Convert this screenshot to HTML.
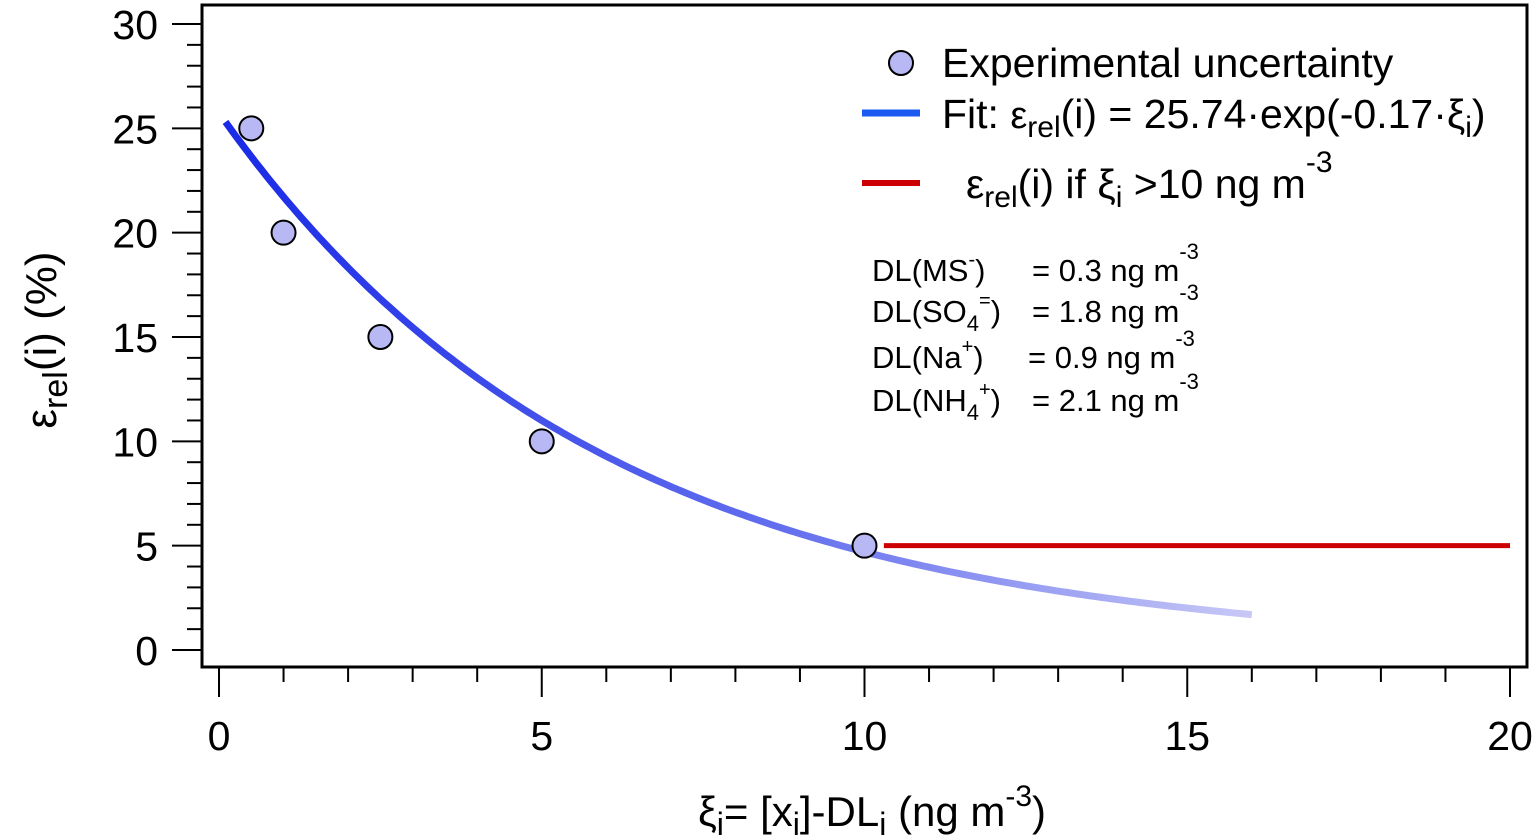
<!DOCTYPE html>
<html><head><meta charset="utf-8"><style>
body{margin:0;background:#fff}
svg{display:block;font-family:"Liberation Sans",Arial,sans-serif}
</style></head><body>
<svg id="chart" width="1540" height="840" viewBox="0 0 1540 840">
<defs>
<linearGradient id="fitgrad" x1="0" x2="1" y1="0" y2="0">
<stop offset="0" stop-color="#1a2ae6"/>
<stop offset="0.55" stop-color="#6470ee"/>
<stop offset="1" stop-color="#c8c8f6"/>
</linearGradient>
</defs>
<rect x="202" y="5" width="1325" height="662" fill="none" stroke="#000" stroke-width="3"/>
<g id="ticks"></g>
<g id="marks"></g>
<text transform="translate(56,340) rotate(-90)" text-anchor="middle" font-size="44">ε<tspan font-size="34" dy="11">rel</tspan><tspan dy="-11">(i) (%)</tspan></text>
<text x="872" y="826" text-anchor="middle" font-size="42">ξ<tspan font-size="32" dy="9">i</tspan><tspan dy="-9">= [x</tspan><tspan font-size="32" dy="9">i</tspan><tspan dy="-9">]-DL</tspan><tspan font-size="32" dy="9">i</tspan><tspan dy="-9"> (ng m</tspan><tspan font-size="30" dy="-20">-3</tspan><tspan dy="20">)</tspan></text>
<g font-size="41">
<circle cx="901" cy="63" r="12" fill="#b8b8f4" stroke="#000" stroke-width="2"/>
<text x="942" y="77">Experimental uncertainty</text>
<line x1="862" y1="113" x2="920" y2="113" stroke="#1a5af0" stroke-width="7"/>
<text x="942" y="128">Fit: <tspan font-size="38">ε</tspan><tspan font-size="30" dy="9">rel</tspan><tspan dy="-9">(i) = 25.74·exp(-0.17·ξ</tspan><tspan font-size="30" dy="9">i</tspan><tspan dy="-9">)</tspan></text>
<line x1="862" y1="183" x2="920" y2="183" stroke="#cc0000" stroke-width="6"/>
<text x="966" y="198">ε<tspan font-size="30" dy="9">rel</tspan><tspan dy="-9">(i) if ξ</tspan><tspan font-size="30" dy="9">i</tspan><tspan dy="-9"> &gt;10 ng m</tspan><tspan font-size="30" dy="-26">-3</tspan></text>
</g>
<g font-size="31">
<text x="872" y="281">DL(MS<tspan font-size="20" dy="-15">-</tspan><tspan dy="15">)</tspan><tspan x="1032">= 0.3 ng m</tspan><tspan font-size="22" dy="-22">-3</tspan></text>
<text x="872" y="322">DL(SO<tspan font-size="22" dy="9">4</tspan><tspan font-size="20" dy="-24">=</tspan><tspan dy="15">)</tspan><tspan x="1032">= 1.8 ng m</tspan><tspan font-size="22" dy="-22">-3</tspan></text>
<text x="872" y="368">DL(Na<tspan font-size="20" dy="-15">+</tspan><tspan dy="15">)</tspan><tspan x="1028">= 0.9 ng m</tspan><tspan font-size="22" dy="-22">-3</tspan></text>
<text x="872" y="411">DL(NH<tspan font-size="22" dy="9">4</tspan><tspan font-size="20" dy="-24">+</tspan><tspan dy="15">)</tspan><tspan x="1032">= 2.1 ng m</tspan><tspan font-size="22" dy="-22">-3</tspan></text>
</g>
</svg>
<script>
const xData = [0.5, 1, 2.5, 5, 10];
const yData = [25, 20, 15, 10, 5];
const fitA = 25.74;
const fitK = 0.17;
const fitRange = [0.1, 16];
const thresholdValue = 5;
const thresholdRange = [10.3, 20];
const xTickLabels = [0, 5, 10, 15, 20];
const yTickLabels = [0, 5, 10, 15, 20, 25, 30];

const NS = "http://www.w3.org/2000/svg";
const sx = v => 219 + v * (1510 - 219) / 20;
const sy = v => 650 - v * (650 - 24) / 30;
function mk(tag, attrs, parent) {
  const e = document.createElementNS(NS, tag);
  for (const k in attrs) e.setAttribute(k, attrs[k]);
  parent.appendChild(e);
  return e;
}
const ticks = document.getElementById('ticks');
const marks = document.getElementById('marks');
for (let v = 0; v <= 20; v++) {
  const major = v % 5 === 0;
  const t = mk('line', {x1: sx(v), x2: sx(v), y1: 667, y2: major ? 697 : 682, stroke: '#000', 'stroke-width': 2}, ticks);
  
  
}
xTickLabels.forEach(v => {
  const t = mk('text', {x: sx(v), y: 750, 'text-anchor': 'middle', 'font-size': 41}, ticks);
  t.textContent = v;
  
  
});
for (let v = 0; v <= 30; v++) {
  const major = v % 5 === 0;
  const t = mk('line', {x1: major ? 172 : 187, x2: 202, y1: sy(v), y2: sy(v), stroke: '#000', 'stroke-width': 2}, ticks);
  
  
}
yTickLabels.forEach(v => {
  const t = mk('text', {x: 158, y: sy(v) + 15, 'text-anchor': 'end', 'font-size': 41}, ticks);
  t.textContent = v;
  
  
});
let d = '';
for (let i = 0; i <= 200; i++) {
  const x = fitRange[0] + (fitRange[1] - fitRange[0]) * i / 200;
  d += (i ? 'L' : 'M') + sx(x).toFixed(1) + ',' + sy(fitA * Math.exp(-fitK * x)).toFixed(1);
}
const fit = mk('path', {d: d, fill: 'none', stroke: 'url(#fitgrad)', 'stroke-width': 7}, marks);


const th = mk('line', {x1: sx(thresholdRange[0]), x2: sx(thresholdRange[1]), y1: sy(thresholdValue), y2: sy(thresholdValue), stroke: '#cc0000', 'stroke-width': 5}, marks);


xData.forEach((x, i) => {
  const c = mk('circle', {cx: sx(x), cy: sy(yData[i]), r: 12, fill: '#b8b8f4', stroke: '#000', 'stroke-width': 2}, marks);
  
  
});
</script>
</body></html>
